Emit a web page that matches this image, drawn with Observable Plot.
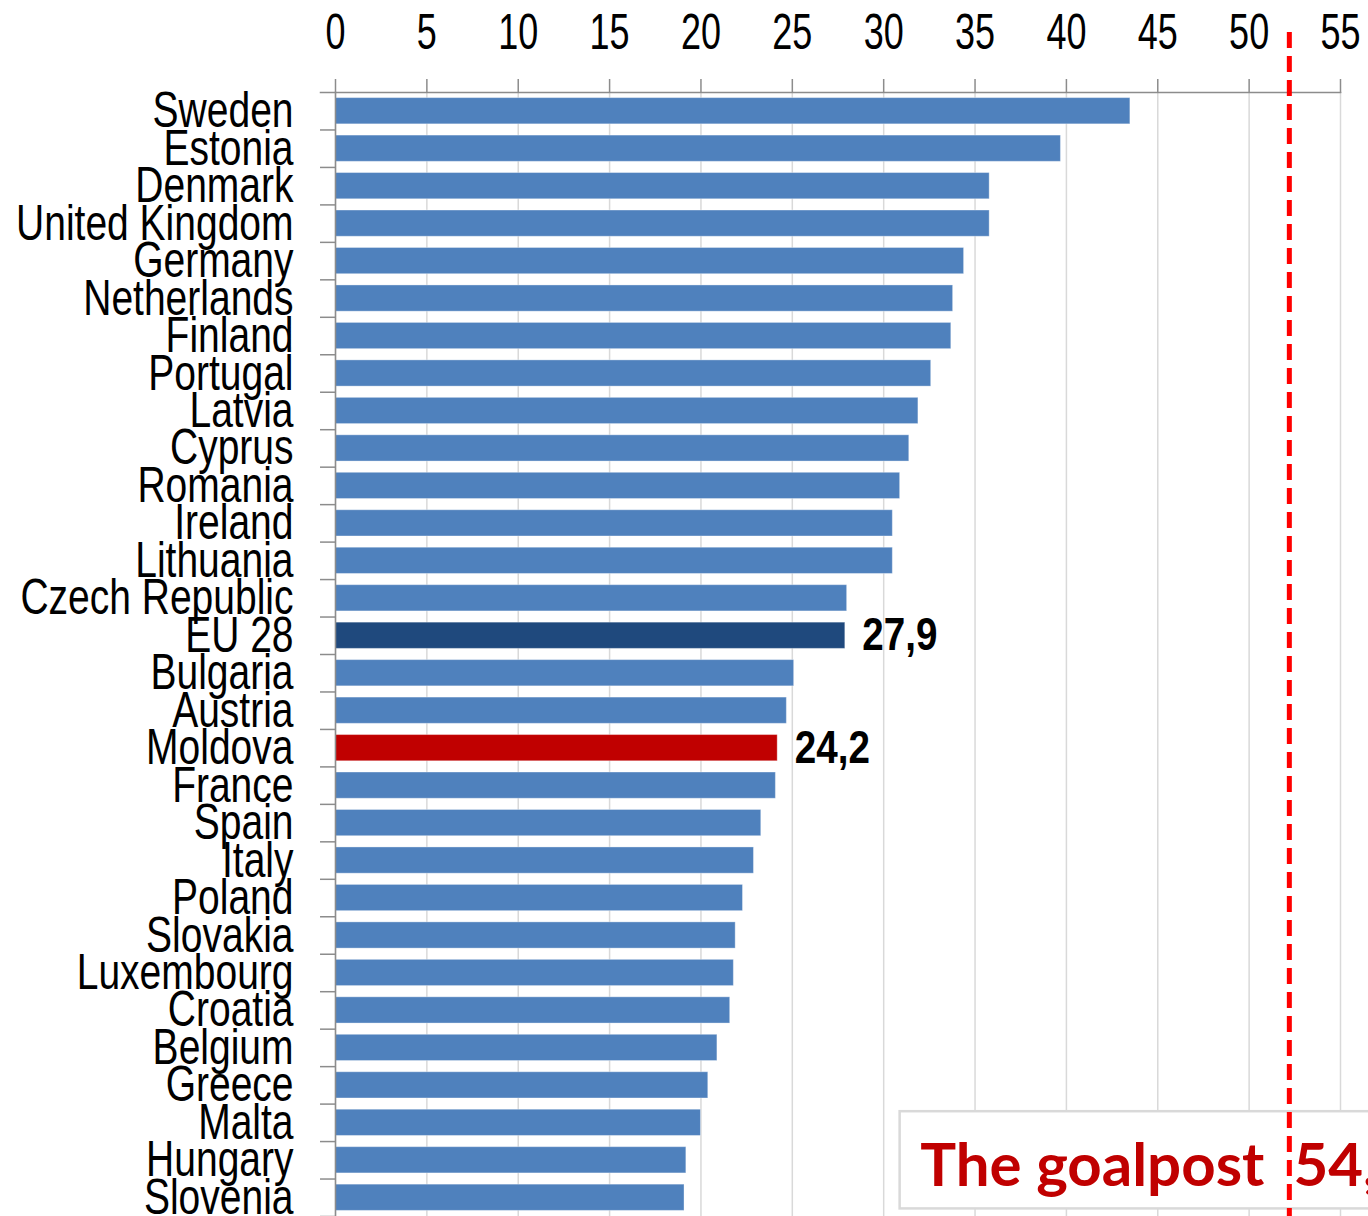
<!DOCTYPE html>
<html>
<head>
<meta charset="utf-8">
<script src="https://cdn.jsdelivr.net/npm/d3@7"></script>
<script src="https://cdn.jsdelivr.net/npm/@observablehq/plot@0.6"></script>
<style>
  html, body { margin: 0; padding: 0; background: #fff; overflow: hidden; }
</style>
</head>
<body>
<div id="chart"></div>
<script>
const countries = ["Sweden","Estonia","Denmark","United Kingdom","Germany","Netherlands","Finland","Portugal","Latvia","Cyprus","Romania","Ireland","Lithuania","Czech Republic","EU 28","Bulgaria","Austria","Moldova","France","Spain","Italy","Poland","Slovakia","Luxembourg","Croatia","Belgium","Greece","Malta","Hungary","Slovenia"];
const values = [43.5,39.7,35.8,35.8,34.4,33.8,33.7,32.6,31.9,31.4,30.9,30.5,30.5,28.0,27.9,25.1,24.7,24.2,24.1,23.3,22.9,22.3,21.9,21.8,21.6,20.9,20.4,20.0,19.2,19.1];
const labelled = ["EU 28","Moldova"];
const xTicks = [0,5,10,15,20,25,30,35,40,45,50,55];
const goalpostLine = 52.2;
const goalpostText = "The goalpost\u00a0 54,";
const goalpostRow = "Hungary";

const data = countries.map((c, i) => ({country: c, value: values[i]}));
const colorFor = c => c === "EU 28" ? "#1F497D" : c === "Moldova" ? "#C00000" : "#4F81BD";

const W = 1368, H = 1216, mTop = 92, mLeft = 335, mRight = 28, mBottom = 0;
const step = (H - mTop - mBottom) / countries.length;
const sans = "'Liberation Sans', Arial, sans-serif";

const plot = Plot.plot({
  width: W, height: H,
  marginTop: mTop, marginLeft: mLeft, marginRight: mRight, marginBottom: mBottom,
  style: {fontFamily: sans, background: "#fff", overflow: "visible"},
  x: {domain: [0, 55]},
  y: {domain: countries, paddingInner: 0.3, paddingOuter: 0.15, round: false, label: null},
  marks: [
    Plot.gridX(xTicks, {stroke: "#D9D9D9", strokeOpacity: 1, strokeWidth: 1.5}),
    // goalpost box
    Plot.barX([{row: goalpostRow}], {x1: 30.9, x2: 58, y: "row", fill: "#fff", stroke: "#D9D9D9", strokeWidth: 2.5, insetTop: -35.5, insetBottom: -35.5}),
    Plot.barX(data, {x: "value", y: "country", fill: d => colorFor(d.country), stroke: "#fff", strokeOpacity: 0.35, strokeWidth: 1}),
    // left band-boundary ticks
    Plot.ruleY(countries, {y: d => d, x1: -0.82, x2: 0, dy: step / 2, stroke: "#8C8C8C", strokeWidth: 1.5}),
    Plot.frame({anchor: "top", stroke: "#8C8C8C", strokeWidth: 1.5, insetLeft: -15}),
    Plot.frame({anchor: "left", stroke: "#8C8C8C", strokeWidth: 1.5}),
    Plot.axisX({anchor: "top", ticks: xTicks, tickSize: 14, tickPadding: 30, fontSize: 50, stroke: "#8C8C8C", strokeWidth: 1.5, fill: "#000", label: null}),
    Plot.axisY({anchor: "left", tickSize: 0, tickPadding: 42, fontSize: 50, fill: "#000", label: null}),
    Plot.text(data.filter(d => labelled.includes(d.country)), {
      x: "value", y: "country", text: d => d.value.toFixed(1).replace(".", ","),
      textAnchor: "start", dx: 17, fontSize: 46, fontWeight: "bold", fill: "#000"
    }),
    Plot.text([{row: goalpostRow, label: goalpostText}], {
      x: 32.0, y: "row", text: "label", textAnchor: "start", fontSize: 60, fontWeight: "bold", dy: 6,
      fill: "#C00000", fontFamily: "Lato, 'Open Sans', sans-serif"
    }),
    Plot.ruleX([goalpostLine], {stroke: "#FF0000", strokeWidth: 5, strokeDasharray: "16,8", insetTop: -60})
  ]
});

// horizontally condense the narrow-font texts (Arial Narrow look)
function squeeze(group, sx) {
  if (!group) return;
  group.querySelectorAll("text").forEach(t => {
    const tr = t.getAttribute("transform");
    if (tr && tr.includes("translate")) {
      t.setAttribute("transform", tr + ` scale(${sx},1)`);
    } else {
      const x = +(t.getAttribute("x") || 0);
      t.setAttribute("transform", `translate(${x},0) scale(${sx},1) translate(${-x},0)`);
    }
  });
}
squeeze(plot.querySelector('g[aria-label="x-axis tick label"]'), 0.72);
squeeze(plot.querySelector('g[aria-label="y-axis tick label"]'), 0.78);
squeeze(plot.querySelectorAll('g[aria-label="text"]')[0], 0.84);

document.getElementById("chart").appendChild(plot);
</script>
</body>
</html>
